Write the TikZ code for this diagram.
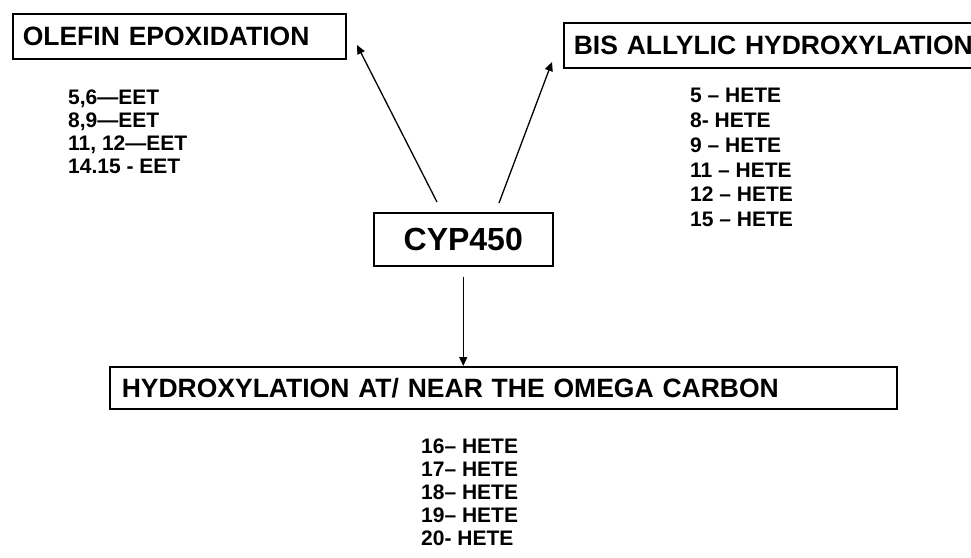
\documentclass[tikz,border=0pt]{standalone}
\usepackage{fontspec}
\setmainfont{Liberation Sans}
\usetikzlibrary{arrows.meta}
\begin{document}
\begin{tikzpicture}[x=1pt,y=-1pt,
  box/.style={draw,line width=1.5pt,inner ysep=0pt,anchor=north west,align=left},
  head/.style={font=\bfseries\fontsize{26.5}{30}\selectfont},
  lst/.style={align=left,anchor=north west,inner sep=0pt},
  arr/.style={line width=1.3pt,-{Triangle[length=9pt,width=8pt]}}]
\useasboundingbox (0,0) rectangle (971,557);
% boxes
\node[box,head,minimum height=45pt,text width=313pt,inner xsep=10pt] (olefin) at (12,13) {OLEFIN EPOXIDATION};
\node[box,head,minimum height=45pt,text width=402pt,inner xsep=10pt] (bis) at (563,22) {BIS ALLYLIC HYDROXYLATION};
\node[box,minimum height=53pt,minimum width=179pt,align=center,font=\bfseries\fontsize{32}{36}\selectfont] (cyp) at (373,212) {CYP450};
\node[box,head,minimum height=42pt,text width=763pt,inner xsep=12pt] (omega) at (109,366) {HYDROXYLATION AT/ NEAR THE OMEGA CARBON};
% lists
\node[lst,font=\bfseries\fontsize{21}{23}\selectfont] (ollist) at (68,90) {5,6—EET\\8,9—EET\\11, 12—EET\\14.15 - EET};
\node[lst,font=\bfseries\fontsize{21}{24.8}\selectfont] (bislist) at (690,88) {5 – HETE\\8- HETE\\9 – HETE\\11 – HETE\\12 – HETE\\15 – HETE};
\node[lst,font=\bfseries\fontsize{21}{23}\selectfont] (omlist) at (421,439) {16– HETE\\17– HETE\\18– HETE\\19– HETE\\20- HETE};
% arrows
\coordinate (l0) at (437,202);
\coordinate (l1) at (357,45);
\coordinate (r0) at (499,203);
\coordinate (r1) at (552,62);
\draw[arr] (l0) -- (l1);
\draw[arr] (r0) -- (r1);
\draw[arr] ([yshift=-10pt]cyp.south) -- (cyp.south |- omega.north);
\end{tikzpicture}
\end{document}
